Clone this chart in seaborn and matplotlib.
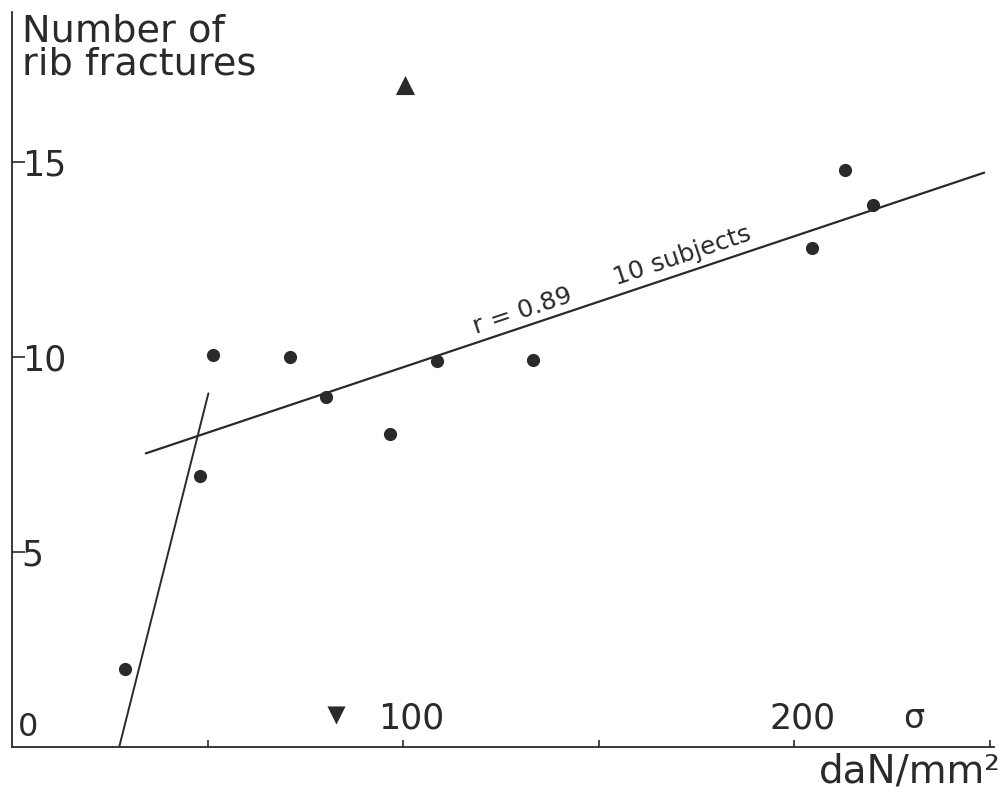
import numpy as np
import pandas as pd
import matplotlib
matplotlib.use('Agg')
import matplotlib.pyplot as plt
import matplotlib.transforms as mtransforms
import seaborn as sns

# stress (daN/mm2) vs number of rib fractures
stress = [28.9, 48.1, 51.3, 71.1, 80.2, 96.5, 108.7, 133.1, 204.5, 212.8, 220.2]
fractures = [2.0, 6.95, 10.05, 10.0, 8.98, 8.04, 9.9, 9.92, 12.8, 14.8, 13.9]

# the two triangle markers
up_x, up_y = [100.4], [16.97]
down_x, down_y = [82.9], [0.82]

# regression line (10 subjects) and the steep line at low stress
reg_x = [34.2, 248.5]
reg_y = [7.53, 14.73]
steep_x = [27.4, 50.2]
steep_y = [0.0, 9.07]

ink = '#2a2a2a'

sns.set_style('white')
plt.rcParams['font.family'] = ['DejaVu Sans']

fig = plt.figure(figsize=(10.03, 7.94), dpi=100)
ax = fig.add_axes([12 / 1003, 47 / 794, 982 / 1003, 735 / 794])

pts = pd.DataFrame({'stress': stress, 'fractures': fractures})
sns.scatterplot(data=pts, x='stress', y='fractures', ax=ax, color=ink,
                s=90, edgecolor=ink, linewidth=0)
sns.scatterplot(x=up_x, y=up_y, ax=ax, marker='^', color=ink, s=190, linewidth=0)
sns.scatterplot(x=down_x, y=down_y, ax=ax, marker='v', color=ink, s=170, linewidth=0)
sns.lineplot(x=reg_x, y=reg_y, ax=ax, color=ink, linewidth=1.6)
sns.lineplot(x=steep_x, y=steep_y, ax=ax, color=ink, linewidth=1.4)

ax.set_xlim(0, 251)
ax.set_ylim(0, 18.85)
sns.despine(ax=ax)
for side in ['left', 'bottom']:
    ax.spines[side].set_color(ink)
    ax.spines[side].set_linewidth(1.3)

ax.set_xticks([50, 100, 150, 200, 250])
ax.set_xticklabels(['', '100', '', '200', ''])
ax.tick_params(axis='x', bottom=True, direction='in', length=5, width=1.2,
               color=ink, labelsize=25, labelcolor=ink, pad=-33)
shift = mtransforms.ScaledTranslation(8 / 100, 0, fig.dpi_scale_trans)
for lab in ax.get_xticklabels():
    lab.set_transform(lab.get_transform() + shift)

ax.set_yticks([5, 10, 15])
ax.set_yticklabels(['5', '10', '15'])
ax.tick_params(axis='y', left=True, direction='in', length=9, width=1.2,
               color=ink, labelsize=25, labelcolor=ink, pad=-7)
for lab in ax.get_yticklabels():
    lab.set_horizontalalignment('left')
ax.set_xlabel('')
ax.set_ylabel('')

ax.text(1.6, 0.5, '0', fontsize=23, color=ink, va='center', ha='left')
ax.text(230.5, 0.72, 'σ', fontsize=24, color=ink, va='center', ha='center')

ax.text(118.6, 10.6, 'r = 0.89', fontsize=18, color=ink, rotation=18.5,
        rotation_mode='anchor', ha='left', va='baseline')
ax.text(154.6, 11.85, '10 subjects', fontsize=18, color=ink, rotation=18.5,
        rotation_mode='anchor', ha='left', va='baseline')

fig.text(22 / 1003, 1 - 13 / 794, 'Number of\nrib fractures', fontsize=27.5,
         color=ink, ha='left', va='top', linespacing=0.92)
fig.text(1001 / 1003, 1 - 791 / 794, 'daN/mm²', fontsize=28, color=ink,
         ha='right', va='bottom')

fig.savefig('out.png', dpi=100, facecolor='white')
